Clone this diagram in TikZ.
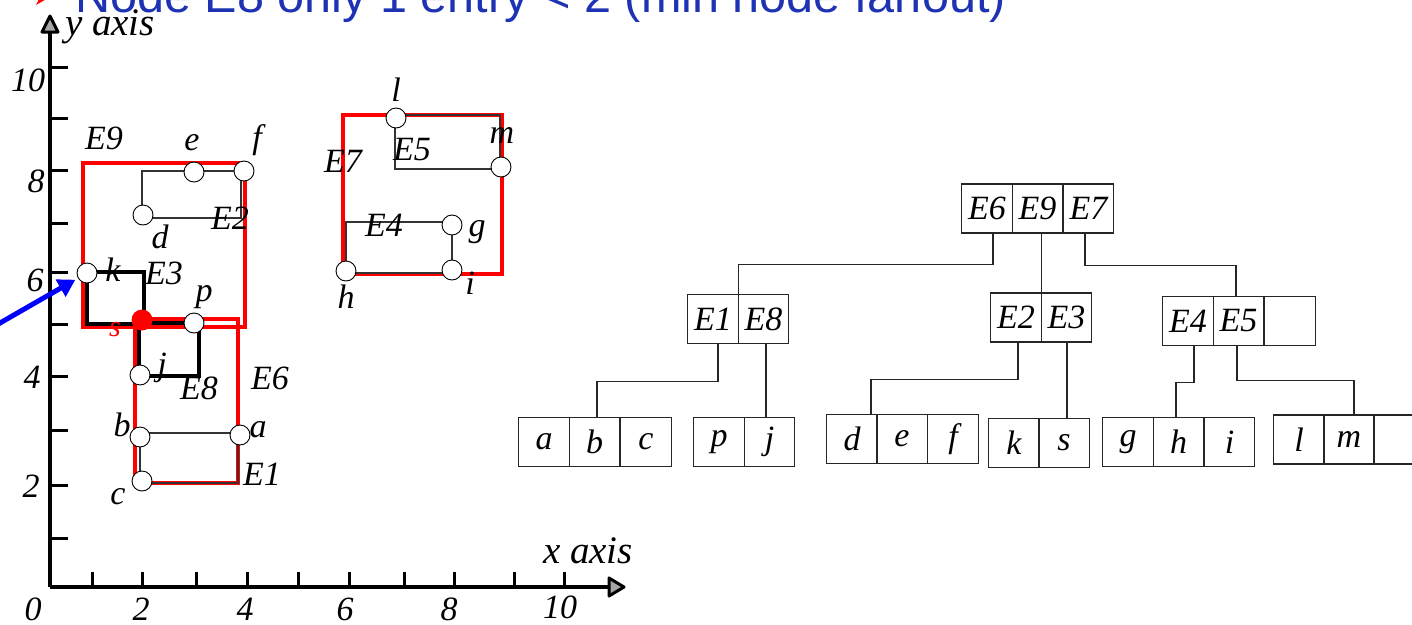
\documentclass[tikz,border=0pt]{standalone}
\usepackage{fontspec}
\setmainfont{Liberation Serif}
\newfontfamily\titlefont{Liberation Sans}
\usetikzlibrary{arrows.meta}
\newcommand{\lblfont}{\fontsize{34}{40}\selectfont\itshape}
\newcommand{\axnamefont}{\fontsize{39}{46}\selectfont\itshape}
\definecolor{titleblue}{RGB}{30,50,180}
\begin{document}
\begin{tikzpicture}[x=1pt,y=-1pt,
  lbl/.style={font=\lblfont, inner sep=0pt},
  pt/.style={circle, draw=black, fill=white, line width=0.9pt, minimum size=20pt, inner sep=0pt},
  spt/.style={circle, fill=red, minimum size=21pt, inner sep=0pt},
  mbr/.style={draw=red, line width=4pt},
  sub/.style={draw=black, line width=4pt},
  leafrect/.style={draw=black!80, line width=1.2pt},
  cell/.style={draw=black!85, line width=1.1pt, minimum width=50.5pt, minimum height=49pt, inner sep=0pt, font=\lblfont},
  link/.style={draw=black!85, line width=1.1pt},
  axisline/.style={line width=3.5pt},
  axishead/.style={fill=gray!70, draw=black, line width=3pt, line join=round},
  tickmark/.style={line width=3pt},
  barrow/.style={draw=blue, line width=5pt, -{Triangle[length=17pt,width=19pt]}, shorten >=3pt}]
\useasboundingbox (0,0) rectangle (1412,624);
\clip (0,0) rectangle (1412,624);

% heading line (cut by the top edge)
\fill[red] (36,-12) -- (50,-3) -- (36,5) -- (40,-3) -- cycle;
\node[anchor=base west, inner sep=0pt, text=titleblue, font=\titlefont\fontsize{48.6}{56}\selectfont] (title) at (75,12) {Node E8 only 1 entry < 2 (min node fanout)};

% ---------------- axes ----------------
\coordinate (O) at (50,587);
\draw[axisline] (O) -- (50,32);
\draw[axisline] (O) -- (609,587);
\filldraw[axishead] (42,32) -- (50,16) -- (58,32) -- cycle;
\filldraw[axishead] (609,578) -- (624,587) -- (609,596) -- cycle;
\foreach \y in {538,485,430,376,324,272,223,170,118,67} \draw[tickmark] (50,\y) -- (68,\y);
\foreach \x in {92,142,196,247,298,349,404,454,514,564} \draw[tickmark] (\x,587) -- (\x,572);
\node[lbl] (x0) at (33,609) {0};
\node[lbl] (x2) at (141,609) {2};
\node[lbl] (x4) at (245,609) {4};
\node[lbl] (x6) at (345,609) {6};
\node[lbl] (x8) at (449,609) {8};
\node[lbl] (x10) at (560,607) {10};
\node[lbl] (y2) at (31,486) {2};
\node[lbl] (y4) at (32,377) {4};
\node[lbl] (y6) at (35,280) {6};
\node[lbl] (y8) at (36,181) {8};
\node[lbl] (y10) at (28,80) {10};
\node[lbl, font=\axnamefont] (yname) at (110,27) {y axis};
\node[lbl, font=\axnamefont] (xname) at (588,551) {x axis};

% ---------------- bounding rectangles ----------------
\draw[mbr] (83,163) rectangle (245,327);   % E9
\draw[mbr] (135,319) rectangle (238,483);  % E6
\draw[mbr] (343,115) rectangle (502,274);  % E7
\draw[sub] (87,272) rectangle (144,324);   % E3
\draw[sub] (139,323) rectangle (199,376);  % E8
\draw[leafrect] (142,171) rectangle (241,218); % E2
\draw[leafrect] (140,433) rectangle (238,483); % E1
\draw[leafrect] (395,115) rectangle (500,169); % E5
\draw[leafrect] (346,222) rectangle (452,273); % E4

% ---------------- data points ----------------
\node[pt] (ce) at (194,172) {};
\node[pt] (cf) at (244,171) {};
\node[pt] (cd) at (143,215) {};
\node[pt] (ck) at (87,273) {};
\node[pt] (cp) at (194,323) {};
\node[pt] (cj) at (140,375) {};
\node[pt] (cb) at (140,437) {};
\node[pt] (ca) at (240,435) {};
\node[pt] (cc) at (142,481) {};
\node[pt] (cl) at (396,118) {};
\node[pt] (cm) at (501,167) {};
\node[pt] (cg) at (452,225) {};
\node[pt] (ch) at (346,271) {};
\node[pt] (ci) at (452,270) {};
\node[spt] (cs) at (142,320) {};

% point and rectangle labels
\node[lbl] (te) at (192,143) {e};
\node[lbl] (tf) at (257,140) {f};
\node[lbl] (td) at (160,237) {d};
\node[lbl] (tE2) at (230,218) {E2};
\node[lbl] (tE9) at (104,138) {E9};
\node[lbl] (tk) at (113,270) {k};
\node[lbl] (tE3) at (164,273) {E3};
\node[lbl, text=red, font=\fontsize{30}{36}\selectfont\itshape] (ts) at (115,330) {s};
\node[lbl] (tp) at (204,297) {p};
\node[lbl] (tj) at (162,368) {j};
\node[lbl] (tE8) at (199,388) {E8};
\node[lbl] (tE6) at (270,378) {E6};
\node[lbl] (tb) at (122,425) {b};
\node[lbl] (ta) at (258,430) {a};
\node[lbl] (tc) at (118,497) {c};
\node[lbl] (tE1) at (262,474) {E1};
\node[lbl] (tl) at (396,90) {l};
\node[lbl] (tm) at (502,135) {m};
\node[lbl] (tE5) at (412,150) {E5};
\node[lbl] (tE7) at (343,161) {E7};
\node[lbl] (tE4) at (384,225) {E4};
\node[lbl] (tg) at (477,232) {g};
\node[lbl] (th) at (346,297) {h};
\node[lbl] (ti) at (470,283) {i};

% query pointer
\coordinate (bs) at (-40,346);
\draw[barrow] (bs) -- (ck);

% ---------------- tree ----------------
\node[cell] (r6) at (987,208.5) {E6};
\node[cell] (r9) at (1037.5,208.5) {E9};
\node[cell] (r7) at (1088.5,208.5) {E7};
\node[cell] (n1) at (713,319) {E1};
\node[cell] (n8) at (763.5,319) {E8};
\node[cell] (n2) at (1016,317.5) {E2};
\node[cell] (n3) at (1066.5,317.5) {E3};
\node[cell] (n4) at (1188,321) {E4};
\node[cell] (n5) at (1238.5,321) {E5};
\node[cell] (n0) at (1290,321) {};
\node[cell] (la) at (544,442) {a};
\node[cell] (lb) at (594.5,442) {b};
\node[cell] (lc) at (646,442) {c};
\node[cell] (lp) at (719,442) {p};
\node[cell] (lj) at (769.5,442) {j};
\node[cell] (ld) at (852,439) {d};
\node[cell] (le) at (902,439) {e};
\node[cell] (lf) at (953,439) {f};
\node[cell] (lk) at (1014,443) {k};
\node[cell] (ls) at (1064,443) {s};
\node[cell] (lg) at (1128,442) {g};
\node[cell] (lh) at (1178.5,442) {h};
\node[cell] (li) at (1229.5,442) {i};
\node[cell] (ll) at (1299,439.5) {l};
\node[cell] (lm) at (1349,439.5) {m};
\node[cell] (lx) at (1399,439.5) {};

\draw[link] ([xshift=6pt]r6.south) -- ++(0,31) -| (n1.north east);
\draw[link] (r9.south -| n2.north east) -- (n2.north east);
\draw[link] ([xshift=-3.5pt]r7.south) -- ++(0,32) -| ([xshift=-2.5pt]n5.north);
\draw[link] ([xshift=5pt]n1.south) -- ++(0,37) -| ([xshift=2.5pt]lb.north);
\draw[link] ([xshift=2.5pt]n8.south) -- ([xshift=-3.5pt]lj.north);
\draw[link] ([xshift=2pt]n2.south) -- ++(0,36.5) -| ([xshift=19pt]ld.north);
\draw[link] ([xshift=0.5pt]n3.south) -- ([xshift=3pt]ls.north);
\draw[link] ([xshift=6pt]n4.south) -- ++(0,36) -| ([xshift=-2.5pt]lh.north);
\draw[link] ([xshift=-1.5pt]n5.south) -- ++(0,34) -| ([xshift=5pt]lm.north);
\end{tikzpicture}
\end{document}
